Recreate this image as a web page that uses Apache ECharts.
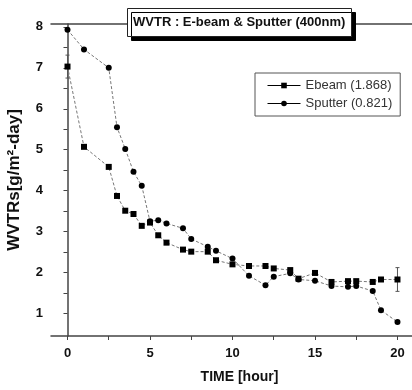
<!DOCTYPE html>
<html>
<head>
<meta charset="utf-8">
<style>
  html, body { margin: 0; padding: 0; background: #fff; }
  #main { width: 412px; height: 390px; }
</style>
<script src="https://cdn.jsdelivr.net/npm/echarts@6/dist/echarts.min.js"></script>
</head>
<body>
<div id="main"></div>
<script>
// measurement times (hour)
const hours = [0, 1, 2.5, 3, 3.5, 4, 4.5, 5, 5.5, 6, 7, 7.5, 8.5, 9, 10, 11, 12, 12.5, 13.5, 14, 15, 16, 17, 17.5, 18.5, 19, 20];
// WVTR values
const ebeam = [7.03, 5.07, 4.58, 3.87, 3.51, 3.43, 3.14, 3.22, 2.91, 2.73, 2.56, 2.51, 2.51, 2.30, 2.20, 2.16, 2.16, 2.10, 2.06, 1.85, 1.99, 1.77, 1.79, 1.79, 1.77, 1.83, 1.83];
const sputter = [7.93, 7.45, 7.00, 5.55, 5.02, 4.46, 4.12, 3.25, 3.28, 3.20, 3.08, 2.82, 2.63, 2.53, 2.34, 1.92, 1.69, 1.90, 1.98, 1.83, 1.80, 1.67, 1.65, 1.67, 1.55, 1.08, 0.79];
// error bars only visible on first / last ebeam point
const ebeamErr = [0.28, 0, 0, 0, 0, 0, 0, 0, 0, 0, 0, 0, 0, 0, 0, 0, 0, 0, 0, 0, 0, 0, 0, 0, 0, 0, 0.29];

const xTicks = [0, 2.5, 5, 7.5, 10, 12.5, 15, 17.5, 20];
const xLabels = [0, 5, 10, 15, 20];
const yTicks = [1, 1.5, 2, 2.5, 3, 3.5, 4, 4.5, 5, 5.5, 6, 6.5, 7, 7.5, 8];
const yLabels = [1, 2, 3, 4, 5, 6, 7, 8];

const chart = echarts.init(document.getElementById('main'));
const font = 'Liberation Sans, Arial, sans-serif';
const axisColor = '#444';

const option = {
  animation: false,
  backgroundColor: '#fff',
  title: {
    text: 'WVTR : E-beam & Sputter (400nm)',
    left: 127,
    top: 8,
    padding: [8, 6],
    backgroundColor: '#fff',
    borderColor: '#222',
    borderWidth: 1,
    shadowColor: '#000',
    shadowBlur: 0,
    shadowOffsetX: 4,
    shadowOffsetY: 4,
    textStyle: { fontFamily: font, fontSize: 13, fontWeight: 'bold', color: '#111' }
  },
  legend: {
    orient: 'vertical',
    left: 255,
    top: 73,
    padding: [6, 8, 6, 12],
    itemWidth: 33,
    itemHeight: 7,
    itemGap: 5,
    borderColor: '#555',
    borderWidth: 1,
    backgroundColor: '#fff',
    data: ['Ebeam (1.868)', 'Sputter (0.821)'],
    lineStyle: { color: '#000', type: 'solid', width: 1 },
    textStyle: { fontFamily: font, fontSize: 13, color: '#333' }
  },
  grid: { left: 51, right: 0, top: 24, bottom: 54, outerBoundsMode: 'none' },
  xAxis: [
    {
      type: 'value',
      min: -1,
      max: 20.88,
      name: 'TIME [hour]',
      nameLocation: 'middle',
      nameGap: 34,
      nameTextStyle: { fontFamily: font, fontSize: 14, fontWeight: 'bold', color: '#111', padding: [0, 0, 0, 16] },
      splitLine: { show: false },
      axisLine: { lineStyle: { color: axisColor, width: 1.5 } },
      axisTick: { customValues: xTicks, length: 4, lineStyle: { color: axisColor } },
      axisLabel: {
        customValues: xLabels, margin: 11,
        fontFamily: font, fontSize: 13, fontWeight: 'bold', color: '#111'
      }
    },
    {
      type: 'value',
      position: 'top',
      min: -1,
      max: 20.88,
      splitLine: { show: false },
      axisLine: { lineStyle: { color: axisColor, width: 1.5 } },
      axisTick: { show: false },
      axisLabel: { show: false }
    }
  ],
  yAxis: {
    type: 'value',
    min: 0.45,
    max: 8.07,
    name: 'WVTRs[g/m²-day]',
    nameLocation: 'middle',
    nameGap: 28,
    nameTextStyle: { fontFamily: font, fontSize: 17, fontWeight: 'bold', color: '#111' },
    splitLine: { show: false },
    axisLine: { show: true, lineStyle: { color: axisColor, width: 1.5 } },
    axisTick: { customValues: yTicks, length: 4, lineStyle: { color: axisColor } },
    axisLabel: {
      customValues: yLabels, margin: 8,
      fontFamily: font, fontSize: 13, fontWeight: 'bold', color: '#111'
    }
  },
  series: [
    {
      name: 'Ebeam (1.868)',
      type: 'line',
      data: hours.map((h, i) => [h, ebeam[i]]),
      symbol: 'rect',
      symbolSize: 6,
      itemStyle: { color: '#000' },
      lineStyle: { color: '#777', width: 1, type: [3, 2] },
      z: 3
    },
    {
      name: 'Sputter (0.821)',
      type: 'line',
      data: hours.map((h, i) => [h, sputter[i]]),
      symbol: 'circle',
      symbolSize: 6,
      itemStyle: { color: '#000' },
      lineStyle: { color: '#777', width: 1, type: [3, 2] },
      z: 3
    },
    {
      type: 'custom',
      data: hours.map((h, i) => [h, ebeam[i], ebeamErr[i]]),
      renderItem: function (params, api) {
        const x = api.value(0), y = api.value(1), e = api.value(2);
        if (!e) return;
        const top = api.coord([x, y + e]);
        const bot = api.coord([x, y - e]);
        const st = { stroke: '#555', lineWidth: 1 };
        return {
          type: 'group',
          children: [
            { type: 'line', shape: { x1: top[0], y1: top[1], x2: bot[0], y2: bot[1] }, style: st },
            { type: 'line', shape: { x1: top[0] - 2, y1: top[1], x2: top[0] + 2, y2: top[1] }, style: st },
            { type: 'line', shape: { x1: bot[0] - 2, y1: bot[1], x2: bot[0] + 2, y2: bot[1] }, style: st }
          ]
        };
      },
      z: 2
    }
  ]
};

chart.setOption(option);
</script>
</body>
</html>
